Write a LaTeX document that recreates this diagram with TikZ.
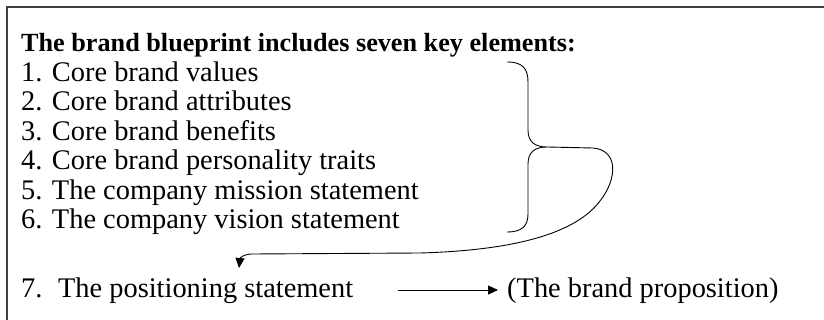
\documentclass[tikz,border=0pt]{standalone}
\usepackage{fontspec}
\setmainfont{Liberation Serif}
\usetikzlibrary{arrows.meta}
\begin{document}
\begin{tikzpicture}[x=1pt,y=1pt,
  txt/.style={anchor=base west, inner sep=0pt, font=\fontsize{28.4}{30}\selectfont},
  head/.style={anchor=base west, inner sep=0pt, font=\fontsize{26.2}{30}\selectfont\bfseries},
  frameline/.style={draw=black!75, line width=1.3pt},
  conn/.style={draw=black, line width=0.9pt},
  tipped/.style={conn, -{Triangle[length=10pt,width=9pt]}}]
\useasboundingbox (0,0) rectangle (824,-320);

% frame (only its top and left sides fall on the page)
\draw[frameline] (7,-330) -- (7,-7) -- (834,-7);

% heading and list
\node[head] (h)  at (21,-52)    {The brand blueprint includes seven key elements:};
\node[txt]  (l1) at (21,-81.5)  {1. Core brand values};
\node[txt]  (l2) at (21,-111)   {2. Core brand attributes};
\node[txt]  (l3) at (21,-140.5) {3. Core brand benefits};
\node[txt]  (l4) at (21,-170)   {4. Core brand personality traits};
\node[txt]  (l5) at (21,-199.5) {5. The company mission statement};
\node[txt]  (l6) at (21,-229)   {6. The company vision statement};
\node[txt]  (l7) at (21,-297)   {7.\hspace{0.55em}The positioning statement};
\node[txt]  (prop) at (507,-297) {(The brand proposition)};

% brace grouping items 1--6
\coordinate (btop) at (507,-62);
\coordinate (tip)  at (547,-147);
\coordinate (bbot) at (507,-232);
\draw[conn] (btop) .. controls (522,-62) and (528,-68) .. (528,-82)
  -- (528,-130) .. controls (528,-142) and (535,-147) .. (tip)
  .. controls (535,-147) and (528,-152) .. (528,-164)
  -- (528,-214) .. controls (528,-226) and (522,-232) .. (bbot);

% loop from the brace down to item 7
\coordinate (land) at (239,-268);
\draw[tipped] (tip) -- (593,-148)
  .. controls (618,-150) and (618,-178) .. (600,-201)
  .. controls (578,-230) and (525,-250) .. (420,-253)
  -- (252,-254) .. controls (244,-254) and (240,-258) .. (land);

% item 7 leads to the brand proposition
\coordinate (a1) at (398,-290);
\coordinate (a2) at (498,-290);
\draw[tipped] (a1) -- (a2);
\end{tikzpicture}
\end{document}
